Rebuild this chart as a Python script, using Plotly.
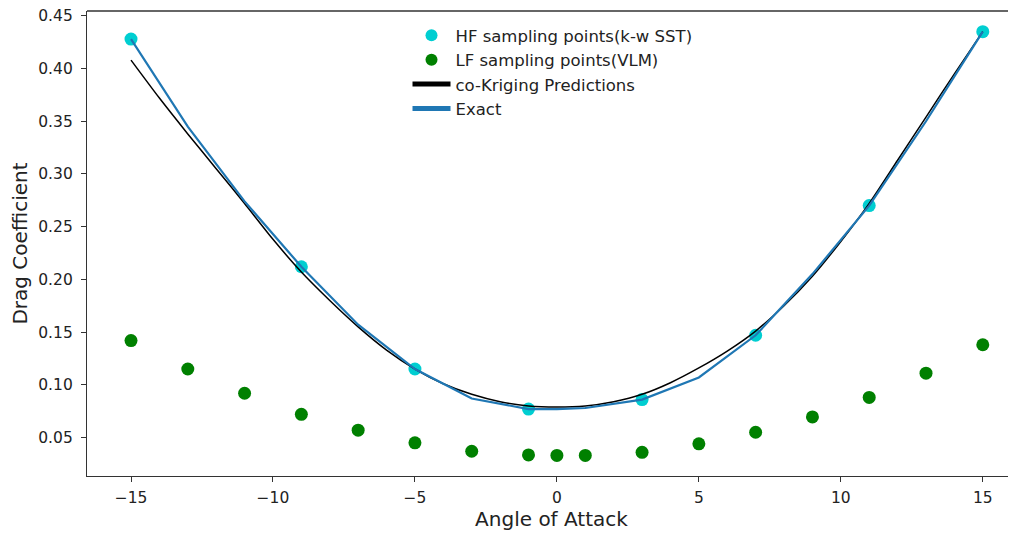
import plotly.graph_objects as go

# HF sampling points (k-w SST)
hf_x = [-15, -9, -5, -1, 3, 7, 11, 15]
hf_y = [0.428, 0.212, 0.115, 0.077, 0.086, 0.147, 0.270, 0.435]

# LF sampling points (VLM)
lf_x = [-15, -13, -11, -9, -7, -5, -3, -1, 0, 1, 3, 5, 7, 9, 11, 13, 15]
lf_y = [0.142, 0.115, 0.092, 0.072, 0.057, 0.045, 0.037, 0.0335, 0.033, 0.033,
        0.036, 0.044, 0.055, 0.0695, 0.088, 0.111, 0.138]

# co-Kriging predictions
ck_x = list(range(-15, 16))
ck_y = [0.408, 0.372, 0.338, 0.305, 0.272, 0.238, 0.207, 0.180, 0.155, 0.133,
        0.115, 0.101, 0.091, 0.084, 0.080, 0.079, 0.080, 0.084, 0.091, 0.102,
        0.116, 0.132, 0.151, 0.175, 0.203, 0.236, 0.272, 0.313, 0.354, 0.395, 0.435]

# Exact
ex_x = [-15, -13, -11, -9, -7, -5, -3, -1, 0, 1, 3, 5, 7, 9, 11, 13, 15]
ex_y = [0.428, 0.345, 0.274, 0.212, 0.157, 0.115, 0.087, 0.077, 0.077, 0.078,
        0.086, 0.107, 0.147, 0.205, 0.270, 0.350, 0.435]

x_ticks = [-15, -10, -5, 0, 5, 10, 15]
y_ticks = [0.05, 0.10, 0.15, 0.20, 0.25, 0.30, 0.35, 0.40, 0.45]

FONT = "DejaVu Sans"
AX = "#333333"

fig = go.Figure()
fig.add_trace(go.Scatter(x=hf_x, y=hf_y, mode="markers", name="HF sampling points(k-w SST)",
                         marker=dict(color="#00CED1", size=13, line=dict(width=0))))
fig.add_trace(go.Scatter(x=lf_x, y=lf_y, mode="markers", name="LF sampling points(VLM)",
                         marker=dict(color="#008000", size=13, line=dict(width=0))))
fig.add_trace(go.Scatter(x=ck_x, y=ck_y, mode="lines", name="co-Kriging Predictions",
                         line=dict(color="black", width=1.5, shape="spline", smoothing=0.6)))
fig.add_trace(go.Scatter(x=ex_x, y=ex_y, mode="lines", name="Exact",
                         line=dict(color="#1f77b4", width=2.2)))

# page body has an 8px margin, so the figure is sized to fill the rest of the window
fig.update_layout(
    width=1008, height=528,
    margin=dict(l=79, r=0, t=3, b=60, autoexpand=False),
    paper_bgcolor="white", plot_bgcolor="white",
    font=dict(family=FONT, color="#222222", size=15),
    showlegend=True,
    legend=dict(x=0.345, y=0.985, xanchor="left", yanchor="top",
                bgcolor="rgba(0,0,0,0)", font=dict(size=16.5, family=FONT, color="#222222"),
                itemsizing="constant", itemwidth=38),
    xaxis=dict(range=[-16.55, 16.17], tickvals=x_ticks,
               ticktext=["\u221215", "\u221210", "\u22125", "0", "5", "10", "15"],
               showgrid=False, zeroline=False, showline=True, linecolor=AX, linewidth=1.3,
               ticks="outside", ticklen=5, tickwidth=1.2, tickcolor=AX, automargin=False,
               tickfont=dict(size=15.5, family=FONT), ticklabelstandoff=2,
               ticklabeloverflow="allow",
               title=dict(text="Angle of Attack", font=dict(size=20, family=FONT), standoff=6)),
    yaxis=dict(range=[0.0135, 0.4546], tickvals=y_ticks,
               ticktext=[f"{v:.2f}" for v in y_ticks],
               showgrid=False, zeroline=False, showline=True, linecolor=AX, linewidth=1.3,
               ticks="outside", ticklen=5, tickwidth=1.2, tickcolor=AX, automargin=False,
               tickfont=dict(size=15.5, family=FONT), ticklabelstandoff=5,
               ticklabeloverflow="allow",
               title=dict(text="Drag Coefficient", font=dict(size=20, family=FONT), standoff=8)),
    shapes=[dict(type="line", xref="paper", yref="paper", x0=0, x1=1, y0=1, y1=1,
                 line=dict(color=AX, width=1.3))],
)

fig.write_html("out.html")
